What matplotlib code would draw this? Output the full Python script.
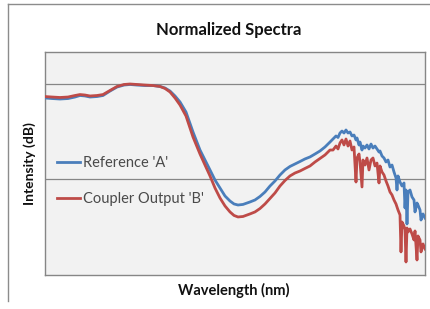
import matplotlib
matplotlib.use("Agg")
import matplotlib.pyplot as plt
from matplotlib.lines import Line2D

title = "Normalized Spectra"
xlabel = "Wavelength (nm)"
ylabel = "Intensity (dB)"
series_names = ["Reference 'A'", "Coupler Output 'B'"]

wavelength = [1200, 1207, 1215, 1223, 1230, 1235, 1240, 1245, 1252, 1258,
              1265, 1272, 1279, 1285, 1292, 1300, 1308, 1315, 1320, 1325,
              1330, 1335, 1341, 1348, 1355, 1360, 1365, 1370, 1375, 1380,
              1385, 1389, 1393, 1398, 1405, 1410, 1415, 1420, 1425, 1430,
              1435, 1440, 1445, 1450, 1455, 1460, 1465, 1470, 1475, 1480,
              1485, 1488, 1491, 1493, 1495, 1497, 1499, 1501, 1503, 1505,
              1507, 1509, 1511, 1512, 1514, 1515, 1517, 1518, 1520, 1522,
              1524, 1526, 1528, 1530, 1532, 1534, 1535, 1537, 1539, 1541,
              1543, 1545, 1547, 1549, 1551, 1552, 1553, 1555, 1556, 1557,
              1559, 1560, 1561, 1562, 1563, 1565, 1567, 1569, 1570, 1572,
              1573, 1575, 1576, 1578, 1580]

reference_a = [-6.47, -6.53, -6.58, -6.53, -6.37, -6.21, -6.26, -6.37, -6.32, -6.21,
               -5.74, -5.32, -5.11, -5.05, -5.11, -5.16, -5.16, -5.26, -5.42, -5.74,
               -6.26, -6.89, -7.95, -10.05, -11.95, -13.0, -14.05, -15.11, -15.95, -16.79,
               -17.32, -17.63, -17.74, -17.68, -17.42, -17.21, -16.84, -16.37, -15.74, -15.21,
               -14.58, -14.05, -13.68, -13.42, -13.16, -12.89, -12.68, -12.37, -12.05, -11.63,
               -11.11, -10.79, -10.47, -10.63, -10.16, -9.95, -10.16, -9.84, -10.16, -10.05,
               -10.47, -10.37, -10.89, -10.68, -11.42, -11.11, -11.95, -11.53, -11.74, -11.42,
               -11.84, -11.32, -11.74, -11.53, -11.84, -12.16, -12.05, -12.58, -12.79, -13.21,
               -13.0, -13.74, -13.53, -14.26, -14.89, -16.16, -14.68, -15.32, -15.53, -15.74,
               -15.42, -18.05, -16.16, -19.74, -16.37, -16.16, -16.89, -17.21, -18.47, -17.53,
               -17.74, -18.26, -19.32, -18.68, -19.11]

coupler_b = [-6.32, -6.37, -6.42, -6.37, -6.21, -6.11, -6.16, -6.26, -6.21, -6.11,
             -5.68, -5.26, -5.05, -5.0, -5.05, -5.11, -5.16, -5.26, -5.47, -5.84,
             -6.47, -7.21, -8.37, -10.58, -12.37, -13.53, -14.68, -15.95, -17.0, -17.84,
             -18.47, -18.84, -19.0, -18.95, -18.68, -18.47, -18.11, -17.63, -17.05, -16.47,
             -15.74, -15.16, -14.68, -14.37, -14.16, -13.89, -13.63, -13.21, -12.84, -12.47,
             -11.95, -11.95, -11.53, -11.84, -11.21, -10.89, -11.42, -10.79, -11.53, -11.0,
             -11.95, -11.63, -15.32, -12.79, -12.37, -13.21, -15.84, -13.0, -13.53, -12.79,
             -14.05, -13.0, -12.79, -13.63, -13.32, -15.42, -13.63, -14.26, -14.58, -15.21,
             -15.74, -16.37, -16.68, -17.21, -17.63, -17.95, -18.26, -18.79, -22.68, -19.53,
             -19.95, -20.37, -23.74, -20.16, -20.58, -20.26, -20.79, -21.42, -20.47, -23.53,
             -21.0, -21.42, -22.68, -21.84, -22.37]

grid_levels = [-5, -15]

fig = plt.figure(figsize=(4.31, 3.09), dpi=100)
fig.patch.set_facecolor("white")
W, H = 431.0, 309.0

# outer chart frame
fig.add_artist(Line2D([8.5 / W, 8.5 / W], [1 - 3.5 / H, 1 - 301 / H], color="#8c8c8c", lw=1.0))
fig.add_artist(Line2D([8.5 / W, 1.0], [1 - 3.5 / H, 1 - 3.5 / H], color="#8c8c8c", lw=1.0))

ax = fig.add_axes([45 / W, 1 - 275 / H, 380 / W, 223 / H])
ax.set_facecolor("#f2f2f2")
for s in ax.spines.values():
    s.set_color("#868686")
    s.set_linewidth(1.0)

for g in grid_levels:
    ax.axhline(g, color="#868686", lw=0.9, zorder=1)

ax.plot(wavelength, reference_a, color="#4a7ebb", lw=2.0, label=series_names[0], zorder=3)
ax.plot(wavelength, coupler_b, color="#be4b48", lw=2.0, label=series_names[1], zorder=4)

ax.set_xlim(1200, 1580)
ax.set_ylim(-25.11, -1.63)
ax.set_xticks([])
ax.set_yticks([])

leg = ax.legend(loc="center left", bbox_to_anchor=(0.032, 0.42), frameon=False,
                borderpad=0, borderaxespad=0, handlelength=1.55, handletextpad=0.2,
                labelspacing=1.5, prop={"family": "Lato", "size": 10.5})
for t in leg.get_texts():
    t.set_color("#4a4a4a")

fig.text(229 / W, 1 - 30 / H, title, ha="center", va="center",
         fontfamily="Lato", fontweight="bold", fontsize=12, color="#111111")
fig.text(234 / W, 1 - 290 / H, xlabel, ha="center", va="center",
         fontfamily="Lato", fontweight="bold", fontsize=10.5, color="#111111")
fig.text(30 / W, 1 - 164 / H, ylabel, ha="center", va="center", rotation=90,
         fontfamily="Lato", fontweight="bold", fontsize=10, color="#111111")

fig.savefig("out.png", dpi=100)
